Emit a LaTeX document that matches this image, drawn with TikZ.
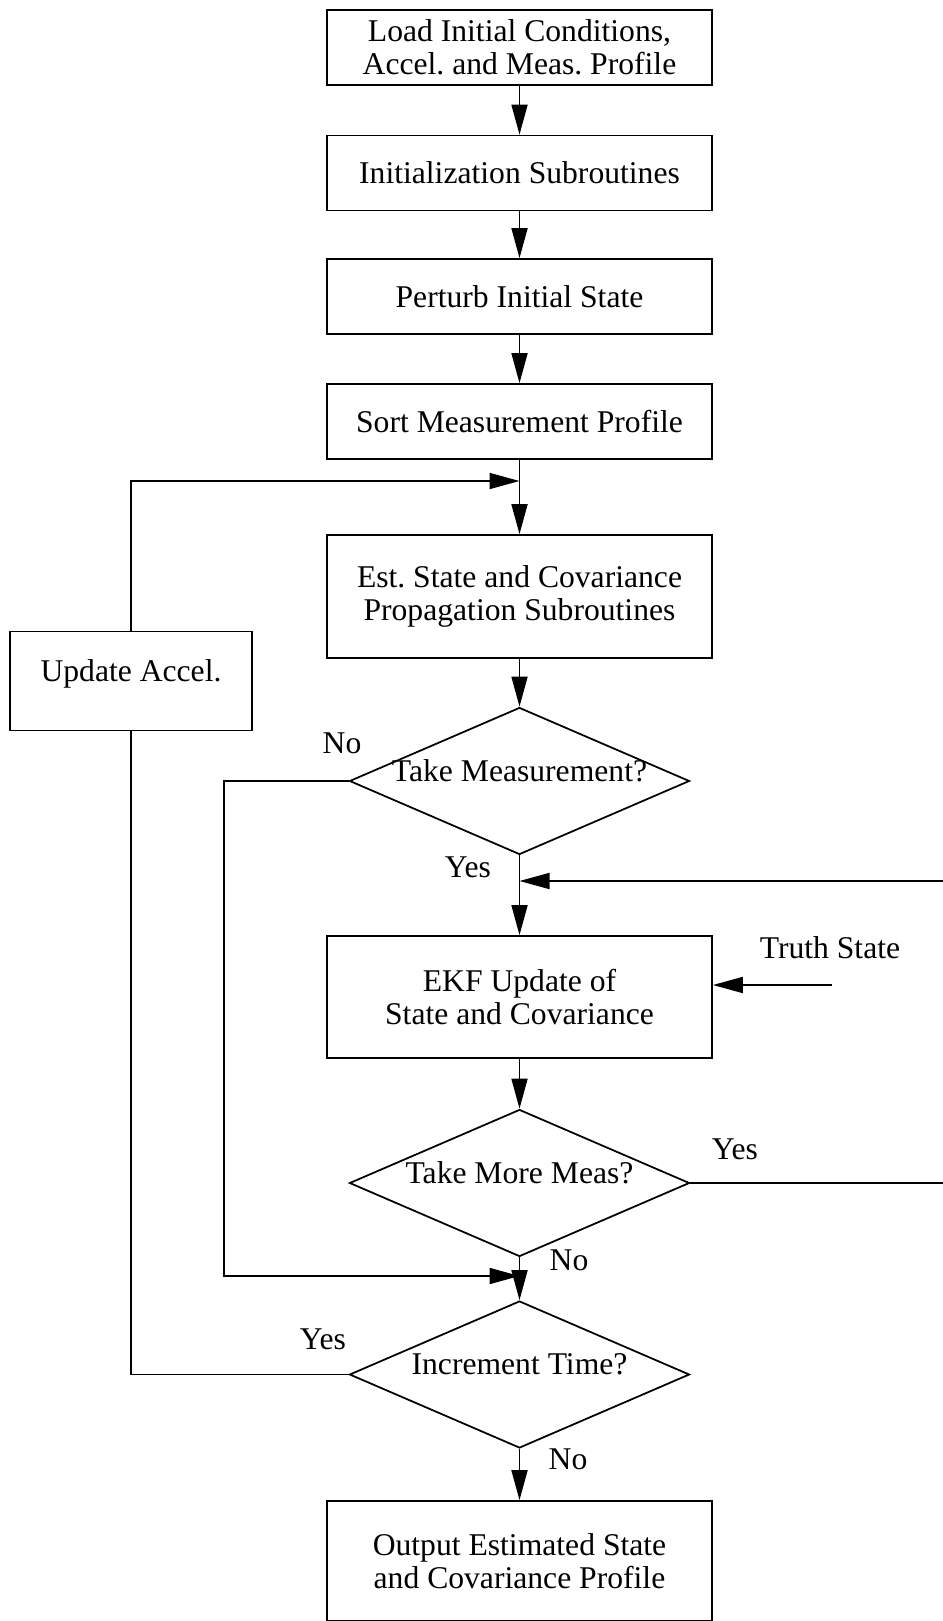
\documentclass[tikz,border=0pt]{standalone}
\usepackage{fontspec}
\setmainfont{Liberation Serif}
\usetikzlibrary{shapes.geometric,arrows.meta}

\begin{document}
\begin{tikzpicture}[
  font=\fontsize{18}{19}\selectfont,
  line width=1pt,
  box/.style={draw,minimum width=7.7cm,minimum height=1.5cm,align=center},
  decision/.style={draw,diamond,inner sep=0pt,minimum width=6.8cm,minimum height=2.94cm,text height=0pt,text depth=0pt},
  lbl/.style={inner sep=0pt},
  arr/.style={-{Triangle[length=0.6cm,width=0.32cm]}}
]
\useasboundingbox (0,0) rectangle (18.84,-32.42);

% Main column
\node[box] (load) at (10.39,-0.95) {Load Initial Conditions,\\Accel.\ and Meas.\ Profile};
\node[box] (init) at (10.39,-3.46) {Initialization Subroutines};
\node[box] (pert) at (10.39,-5.93) {Perturb Initial State};
\node[box] (sort) at (10.39,-8.43) {Sort Measurement Profile};
\node[box,minimum height=2.46cm] (prop) at (10.39,-11.93) {Est.\ State and Covariance\\Propagation Subroutines};
\node[decision] (meas) at (10.39,-15.62) {\makebox[0pt]{Take Measurement?}};
\node[box,minimum height=2.44cm] (ekf) at (10.39,-19.94) {EKF Update of\\State and Covariance};
\node[decision] (more) at (10.39,-23.66) {\makebox[0pt]{Take More Meas?}};
\node[decision] (incr) at (10.39,-27.49) {\makebox[0pt]{Increment Time?}};
\node[box,minimum height=2.4cm] (out) at (10.39,-31.22) {Output Estimated State\\and Covariance Profile};

% Side boxes
\node[box,minimum width=4.84cm,minimum height=1.98cm,text height=0pt,text depth=0pt] (upd) at (2.62,-13.62) {Update Accel.};
\node[lbl] (truth) at (16.6,-18.96) {Truth State};

% Junctions
\coordinate (j1) at (10.39,-9.62);
\coordinate (j2) at (10.39,-17.62);
\coordinate (j3) at (10.39,-25.52);
\coordinate (ts) at (16.64,-19.7);

% Flow
\draw[arr] (load) -- (init);
\draw[arr] (init) -- (pert);
\draw[arr] (pert) -- (sort);
\draw[arr] (sort) -- (prop);
\draw[arr] (upd) |- (j1);
\draw[arr] (prop) -- (meas);
\draw[arr] (meas) -- (ekf);
\draw[arr] (ts) -- (ekf.east |- ts);
\draw[arr] (ekf) -- (more);
\draw[arr] (more.east) -- ++(5.2,0) |- (j2);
\draw[arr] (meas.west) -- ++(-2.49,0) |- (j3);
\draw[arr] (more) -- (incr);
\draw (incr.west) -| (upd.south);
\draw[arr] (incr) -- (out);

% Branch labels
\node[lbl] (no1) at (6.84,-14.86) {No};
\node[lbl] (yes1) at (9.36,-17.34) {Yes};
\node[lbl] (yes2) at (14.70,-22.98) {Yes};
\node[lbl] (no2) at (11.38,-25.2) {No};
\node[lbl] (yes3) at (6.46,-26.78) {Yes};
\node[lbl] (no3) at (11.36,-29.18) {No};
\end{tikzpicture}
\end{document}
